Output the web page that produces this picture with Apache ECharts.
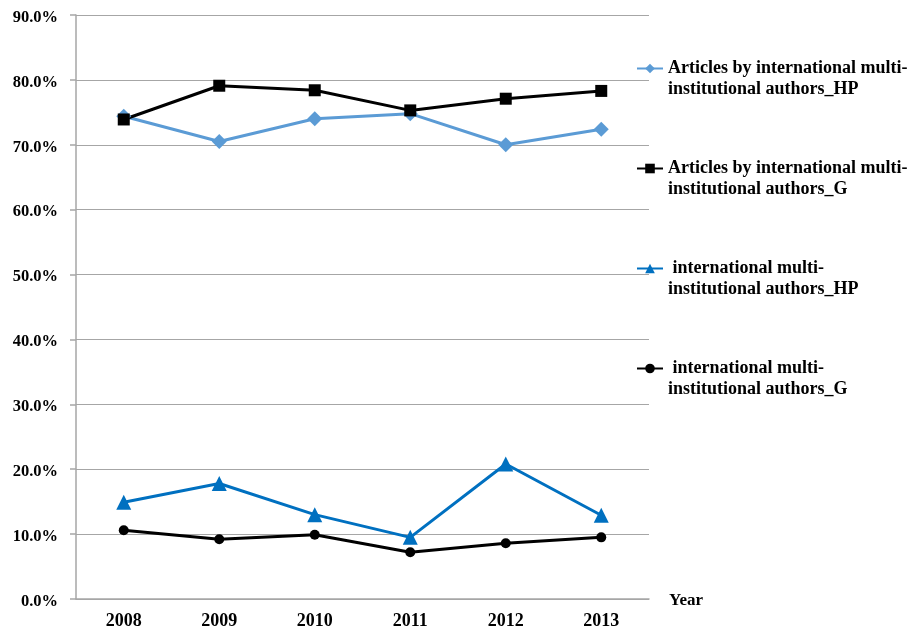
<!DOCTYPE html>
<html>
<head>
<meta charset="utf-8">
<script src="https://cdn.jsdelivr.net/npm/echarts@6/dist/echarts.min.js"></script>
<style>
  html, body { margin: 0; padding: 0; background: #fff; }
  #chart { width: 908px; height: 633px; }
</style>
</head>
<body>
<div id="chart"></div>
<script>
// Years on the category axis
const years = ['2008', '2009', '2010', '2011', '2012', '2013'];

// Shares in percent
const articlesHP = [74.4, 70.5, 74.0, 74.8, 70.0, 72.4];
const articlesG = [73.9, 79.1, 78.4, 75.3, 77.1, 78.3];
const authorsHP = [14.9, 17.8, 13.0, 9.5, 20.8, 12.9];
const authorsG = [10.6, 9.2, 9.9, 7.2, 8.6, 9.5];

const seriesNames = [
  'Articles by international multi-institutional authors_HP',
  'Articles by international multi-institutional authors_G',
  ' international multi-institutional authors_HP',
  ' international multi-institutional authors_G'
];

const yTicks = { min: 0, max: 90, interval: 10 };

const fontFamily = '"Liberation Serif", "Times New Roman", serif';

const chart = echarts.init(document.getElementById('chart'), null, { renderer: 'canvas' });

// One legend per series so each entry can sit at its own height.
// A leading blank line keeps the marker level with the first text line.
function legendFor(name, top) {
  return {
    data: [name],
    orient: 'vertical',
    left: 636,
    top: top,
    padding: 0,
    itemWidth: 26,
    itemHeight: 12,
    itemGap: 0,
    selectedMode: false,
    formatter: n => '\n' + n.replace('multi-', 'multi-\n'),
    textStyle: {
      fontFamily: fontFamily,
      fontWeight: 'bold',
      fontSize: 18,
      color: '#000',
      lineHeight: 21
    }
  };
}

const makeSeries = (name, data, color, symbol, size) => ({
  name: name,
  type: 'line',
  data: data,
  symbol: symbol,
  symbolSize: size,
  lineStyle: { color: color, width: 3 },
  itemStyle: { color: color },
  emphasis: { disabled: true },
  animation: false
});

chart.setOption({
  backgroundColor: '#fff',
  animation: false,
  grid: { left: 76, right: 259, top: 15, bottom: 34, containLabel: false },
  legend: [
    legendFor(seriesNames[0], 37),
    legendFor(seriesNames[1], 137),
    legendFor(seriesNames[2], 237),
    legendFor(seriesNames[3], 337)
  ],
  xAxis: {
    type: 'category',
    data: years,
    boundaryGap: true,
    name: 'Year',
    nameLocation: 'end',
    nameGap: 20,
    nameTextStyle: { fontFamily: fontFamily, fontWeight: 'bold', fontSize: 17, color: '#000', verticalAlign: 'top', padding: [-7, 0, 0, 0] },
    axisLine: { lineStyle: { color: '#a6a6a6', width: 1.5 } },
    axisTick: { show: false },
    axisLabel: { fontFamily: fontFamily, fontWeight: 'bold', fontSize: 18, color: '#000', margin: 13 }
  },
  yAxis: {
    type: 'value',
    min: yTicks.min,
    max: yTicks.max,
    interval: yTicks.interval,
    axisLine: { show: true, lineStyle: { color: '#a6a6a6', width: 1.5 } },
    axisTick: { show: true, length: 6, lineStyle: { color: '#a6a6a6', width: 1.5 } },
    splitLine: { lineStyle: { color: '#a6a6a6', width: 1.2 } },
    axisLabel: {
      margin: 18,
      formatter: v => '{v|' + v.toFixed(1) + '%}',
      rich: {
        v: {
          fontFamily: fontFamily, fontWeight: 'bold', fontSize: 16.5, color: '#000',
          padding: [5, 0, 0, 0]
        }
      }
    }
  },
  series: [
    makeSeries(seriesNames[0], articlesHP, '#5b9bd5', 'diamond', 15),
    makeSeries(seriesNames[1], articlesG, '#000000', 'rect', 12),
    makeSeries(seriesNames[2], authorsHP, '#0070c0', 'triangle', 15),
    makeSeries(seriesNames[3], authorsG, '#000000', 'circle', 10)
  ]
});
</script>
</body>
</html>
